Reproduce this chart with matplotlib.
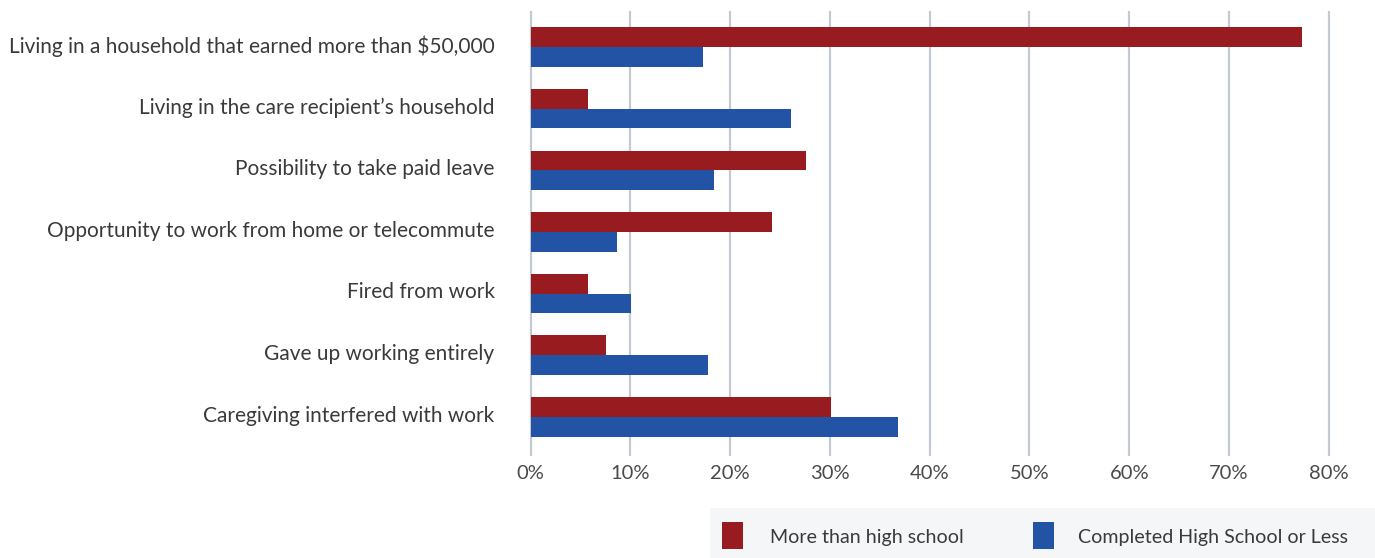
import matplotlib
matplotlib.use("Agg")
import matplotlib.pyplot as plt
from matplotlib.patches import Rectangle
import numpy as np

categories = [
    "Living in a household that earned more than $50,000",
    "Living in the care recipient\u2019s household",
    "Possibility to take paid leave",
    "Opportunity to work from home or telecommute",
    "Fired from work",
    "Gave up working entirely",
    "Caregiving interfered with work",
]
more_than_hs = [77.3, 5.7, 27.6, 24.2, 5.7, 7.5, 30.1]
hs_or_less = [17.3, 26.1, 18.4, 8.7, 10.1, 17.8, 36.8]
series_names = ["More than high school", "Completed High School or Less"]
xticks = [0, 10, 20, 30, 40, 50, 60, 70, 80]
xtick_labels = [f"{t}%" for t in xticks]

RED = "#971B1F"
BLUE = "#2253A5"
GRID = "#C4CAD4"
TEXT = "#3a3a3a"

plt.rcParams["font.family"] = ["Lato", "DejaVu Sans"]

fig = plt.figure(figsize=(13.75, 5.58), dpi=100)
W, H = 1375, 558
ax = fig.add_axes([530.7 / W, 1 - 455 / H, (1328.7 - 530.7) / W, (455 - 12) / H])

n = len(categories)
y = np.arange(n)[::-1]
h = 0.32
ax.barh(y + h / 2, more_than_hs, height=h, color=RED, zorder=3)
ax.barh(y - h / 2, hs_or_less, height=h, color=BLUE, zorder=3)

ax.set_xlim(0, 80)
ax.set_ylim(-0.62, n - 1 + 0.57)
for t in xticks:
    ax.axvline(t, color=GRID, lw=1.6, zorder=1, clip_on=False)

ax.set_xticks(xticks)
ax.set_xticklabels(xtick_labels, fontsize=14.5, color="#4a4a4a")
ax.tick_params(axis="x", length=0, pad=7)
ax.set_yticks(y + 0.05)
ax.set_yticklabels(categories, fontsize=15.0, color=TEXT)
ax.tick_params(axis="y", length=0, pad=26)
for s in ax.spines.values():
    s.set_visible(False)

# legend box
fig.patches.append(Rectangle((710 / W, 0), (W - 710) / W, 50 / H,
                             transform=fig.transFigure, facecolor="#F5F6F8",
                             edgecolor="none", zorder=0))
for px, col, name, tx in [(722, RED, series_names[0], 770), (1033, BLUE, series_names[1], 1078)]:
    fig.patches.append(Rectangle((px / W, 1 - 549 / H), 21 / W, 27 / H,
                                 transform=fig.transFigure, facecolor=col,
                                 edgecolor="none", zorder=1))
    fig.text(tx / W, 1 - 537 / H, name, fontsize=14.1, color=TEXT,
             va="center", ha="left")

fig.savefig("out.png", dpi=100)
